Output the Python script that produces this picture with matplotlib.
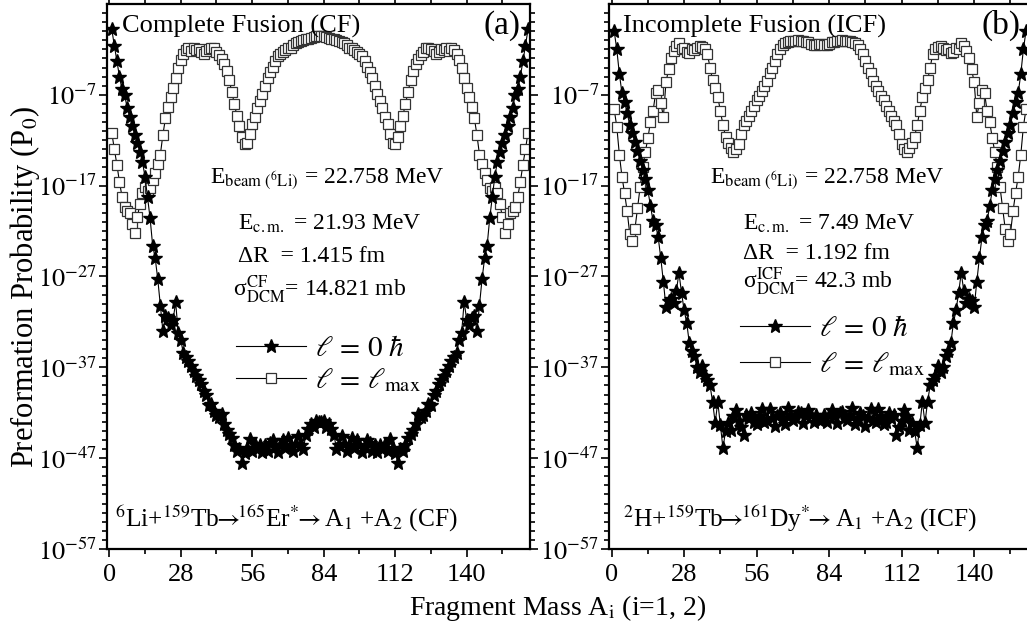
import numpy as np
import matplotlib
matplotlib.use('Agg')
import matplotlib.pyplot as plt
from matplotlib.ticker import FixedLocator, FuncFormatter, NullFormatter

plt.rcParams['font.family'] = 'Liberation Serif'
plt.rcParams['mathtext.fontset'] = 'stix'

# log10(P0), fragment mass A1 = 1..164 (CF) and 1..160 (ICF)
mass_cf = np.arange(1, 165)
mass_icf = np.arange(1, 161)

cf_l0 = [0.2, -1.6, -3.3, -5.0, -6.4, -7.0, -8.4, -9.4, -10.4, -11.4,
         -12.3, -13.3, -14.4, -16.0, -18.3, -20.6, -23.6, -25.0, -27.3, -30.2,
         -33.0, -31.3, -31.6, -32.3, -31.8, -29.8, -33.2, -34.0, -35.4, -35.9,
         -36.3, -36.9, -37.4, -37.9, -38.4, -38.8, -39.6, -40.0, -41.2, -41.0,
         -41.8, -42.2, -42.5, -42.1, -43.2, -43.9, -44.3, -44.8, -45.6, -46.2,
         -46.0, -47.5, -46.4, -45.9, -44.9, -46.2, -45.4, -46.0, -45.6, -46.3,
         -45.5, -46.2, -45.3, -45.0, -45.8, -46.3, -45.5, -45.0, -45.9, -44.8,
         -45.6, -46.2, -45.4, -44.6, -45.6, -46.0, -44.4, -43.8, -43.2, -43.6,
         -42.9, -43.0,
         -43.0, -42.9, -43.6, -43.2, -43.8, -44.4, -46.0, -45.6, -44.6, -45.4,
         -46.2, -45.6, -44.8, -45.9, -45.0, -45.5, -46.3, -45.8, -45.0, -45.3,
         -46.2, -45.5, -46.3, -45.6, -46.0, -45.4, -46.2, -44.9, -45.9, -46.4,
         -47.5, -46.0, -46.2, -45.6, -44.8, -44.3, -43.9, -43.2, -42.1, -42.5,
         -42.2, -41.8, -41.0, -41.2, -40.0, -39.6, -38.8, -38.4, -37.9, -37.4,
         -36.9, -36.3, -35.9, -35.4, -34.0, -33.2, -29.8, -31.8, -32.3, -31.6,
         -31.3, -33.0, -30.2, -27.3, -25.0, -23.6, -20.6, -18.3, -16.0, -14.4,
         -13.3, -12.3, -11.4, -10.4, -9.4, -8.4, -7.0, -6.4, -5.0, -3.3,
         -1.6, 0.2]

cf_lmax = [-11.2, -13.0, -14.7, -16.6, -18.2, -19.4, -19.8, -20.0, -21.2, -22.2,
           -20.5, -19.0, -17.8, -17.2, -17.6, -17.3, -16.4, -15.6, -14.6, -13.6,
           -11.4, -9.6, -8.3, -7.2, -6.2, -5.1, -4.1, -3.2, -2.5, -2.1,
           -1.9, -2.2, -1.9, -2.1, -2.0, -2.3, -2.5, -2.2, -2.0, -1.8,
           -1.9, -2.3, -2.6, -3.1, -3.6, -4.4, -5.4, -6.7, -8.0, -9.3,
           -10.4, -11.6, -12.4, -12.3, -11.3, -10.2, -9.4, -8.5, -7.7, -6.9,
           -6.0, -5.2, -4.5, -3.9, -3.3, -2.7, -2.5, -2.3, -2.1, -1.9,
           -1.8, -1.5, -1.3, -1.2, -1.1, -1.0, -0.9, -0.8, -0.7, -0.6,
           -0.5, -0.5,
           -0.5, -0.5, -0.6, -0.7, -0.8, -0.9, -1.0, -1.1, -1.2, -1.3,
           -1.5, -1.8, -1.9, -2.1, -2.3, -2.5, -2.7, -3.3, -3.9, -4.5,
           -5.2, -6.0, -6.9, -7.7, -8.5, -9.4, -10.2, -11.3, -12.3, -12.4,
           -11.6, -10.4, -9.3, -8.0, -6.7, -5.4, -4.4, -3.6, -3.1, -2.6,
           -2.3, -1.9, -1.8, -2.0, -2.2, -2.5, -2.3, -2.0, -2.1, -1.9,
           -2.2, -1.9, -2.1, -2.5, -3.2, -4.1, -5.1, -6.2, -7.2, -8.3,
           -9.6, -11.4, -13.6, -14.6, -15.6, -16.4, -17.3, -17.6, -17.2, -17.8,
           -19.0, -20.5, -22.2, -21.2, -20.0, -19.8, -19.4, -18.2, -16.6, -14.7,
           -13.0, -11.2]

icf_l0 = [0.0, -2.0, -4.7, -6.8, -7.8, -9.0, -10.3, -11.2, -12.2, -13.2,
          -14.3, -15.3, -16.3, -17.5, -19.2, -20.9, -21.3, -22.7, -25.0, -27.6,
          -30.4, -29.7, -29.5, -29.9, -28.6, -26.6, -28.8, -30.7, -32.1, -34.3,
          -35.2, -35.8, -37.0, -37.5, -36.8, -37.9, -38.4, -39.0, -40.8, -43.1,
          -40.8, -43.3, -45.9, -44.0, -43.1, -43.9, -42.4, -41.7, -42.9, -43.6,
          -44.5, -42.2, -42.6, -42.0, -43.0, -43.2, -42.4, -41.6, -43.0, -42.8,
          -41.6, -42.6, -43.5, -42.4, -42.0, -42.6, -43.2, -41.5, -42.2, -42.8,
          -42.4, -41.9, -42.0, -43.1, -42.4, -41.7, -42.3, -43.0, -42.2, -42.8,
          -42.8, -42.2, -43.0, -42.3, -41.7, -42.4, -43.1, -42.0, -41.9, -42.4,
          -42.8, -42.2, -41.5, -43.2, -42.6, -42.0, -42.4, -43.5, -42.6, -41.6,
          -42.8, -43.0, -41.6, -42.4, -43.2, -43.0, -42.0, -42.6, -42.2, -44.5,
          -43.6, -42.9, -41.7, -42.4, -43.9, -43.1, -44.0, -45.9, -43.3, -40.8,
          -43.1, -40.8, -39.0, -38.4, -37.9, -36.8, -37.5, -37.0, -35.8, -35.2,
          -34.3, -32.1, -30.7, -28.8, -26.6, -28.6, -29.9, -29.5, -29.7, -30.4,
          -27.6, -25.0, -22.7, -21.3, -20.9, -19.2, -17.5, -16.3, -15.3, -14.3,
          -13.2, -12.2, -11.2, -10.3, -9.0, -7.8, -6.8, -4.7, -2.0, 0.0]

icf_lmax = [-8.6, -10.5, -13.6, -16.0, -17.8, -19.8, -22.3, -23.1, -21.8, -19.5,
            -17.2, -15.0, -13.3, -11.8, -10.0, -8.8, -6.8, -6.5, -7.9, -9.4,
            -5.6, -4.2, -2.9, -2.2, -1.6, -1.3, -2.0, -1.8, -2.3, -2.4,
            -2.0, -2.1, -1.8, -1.6, -1.7, -2.0, -2.5, -4.0, -5.4, -6.3,
            -7.2, -8.8, -10.3, -11.6, -12.3, -12.8, -13.3, -13.0, -12.4, -11.3,
            -10.3, -9.9, -9.3, -8.8, -8.2, -7.6, -7.1, -6.6, -6.0, -5.5,
            -4.6, -4.0, -3.3, -2.5, -2.0, -1.5, -1.3, -1.2, -1.1, -1.1,
            -1.1, -1.0, -1.1, -1.1, -1.2, -1.2, -1.4, -1.5, -1.5, -1.4,
            -1.4, -1.5, -1.5, -1.4, -1.2, -1.2, -1.1, -1.1, -1.0, -1.1,
            -1.1, -1.1, -1.2, -1.3, -1.5, -2.0, -2.5, -3.3, -4.0, -4.6,
            -5.5, -6.0, -6.6, -7.1, -7.6, -8.2, -8.8, -9.3, -9.9, -10.3,
            -11.3, -12.4, -13.0, -13.3, -12.8, -12.3, -11.6, -10.3, -8.8, -7.2,
            -6.3, -5.4, -4.0, -2.5, -2.0, -1.7, -1.6, -1.8, -2.1, -2.0,
            -2.4, -2.3, -1.8, -2.0, -1.3, -1.6, -2.2, -2.9, -4.2, -5.6,
            -9.4, -7.9, -6.5, -6.8, -8.8, -10.0, -11.8, -13.3, -15.0, -17.2,
            -19.5, -21.8, -23.1, -22.3, -19.8, -17.8, -16.0, -13.6, -10.5, -8.6]

xticks = [0, 28, 56, 84, 112, 140]

fig = plt.figure(figsize=(10.27, 6.33), dpi=100)
ax1 = fig.add_axes([0.1039, 0.1327, 0.4122, 0.861])
ax2 = fig.add_axes([0.5930, 0.1327, 0.4181, 0.861])


def draw_panel(ax, mass, l0, lmax):
    lq, = ax.plot(mass, 10.0 ** np.array(lmax), color='k', lw=0.8, marker='s', ms=7.5,
                  mfc='white', mec='#333333', mew=0.9, zorder=2)
    ls, = ax.plot(mass, 10.0 ** np.array(l0), color='k', lw=0.8, marker='*', ms=10.5,
                  mfc='k', mec='k', zorder=3)
    ax.set_yscale('log')
    ax.set_xlim(-1, 164.8)
    ax.set_ylim(1e-57, 1e3)
    ax.xaxis.set_major_locator(FixedLocator(xticks))
    ax.xaxis.set_minor_locator(FixedLocator(np.arange(14, 168, 28)))
    ax.yaxis.set_major_locator(FixedLocator([10.0 ** e for e in range(-57, 0, 10)]))
    ax.yaxis.set_minor_locator(FixedLocator([10.0 ** e for e in range(-57, 3) if (e + 57) % 10]))
    ax.yaxis.set_major_formatter(FuncFormatter(lambda v, p: r'$10^{%d}$' % round(np.log10(v))))
    ax.yaxis.set_minor_formatter(NullFormatter())
    ax.tick_params(which='both', direction='out', top=True, right=True, width=1.2,
                   labelsize=19)
    ax.tick_params(which='major', length=6)
    ax.tick_params(which='minor', length=3.5)
    ax.tick_params(axis='y', pad=1)
    ax.tick_params(axis='x', pad=5)
    for s in ax.spines.values():
        s.set_linewidth(1.6)
    return ls, lq


ls1, lq1 = draw_panel(ax1, mass_cf, cf_l0, cf_lmax)
ls2, lq2 = draw_panel(ax2, mass_icf, icf_l0, icf_lmax)

labels = [r'$\ell\,=\,0\ \hbar$', r'$\ell\,=\,\ell_{\rm max}$']
ax1.legend([ls1, lq1], labels, loc='upper left', bbox_to_anchor=(0.305, 0.392),
           frameon=False, fontsize=21, handlelength=2.4, handletextpad=0.3,
           labelspacing=0.15, numpoints=1, borderaxespad=0, borderpad=0)
ax2.legend([ls2, lq2], labels, loc='upper left', bbox_to_anchor=(0.305, 0.428),
           frameon=False, fontsize=21, handlelength=2.4, handletextpad=0.3,
           labelspacing=0.28, numpoints=1, borderaxespad=0, borderpad=0)

arrow = r'$\!\!\rightarrow\!\!$'
arrow_end = r'$\!\!\rightarrow$'

# panel (a) texts
t = dict(transform=ax1.transAxes, va='baseline')
ax1.text(0.036, 0.948, 'Complete Fusion (CF)', fontsize=19, **t)
ax1.text(0.978, 0.946, '(a)', fontsize=24, ha='right', **t)
ax1.text(0.244, 0.672, r'E$_{\rm beam\ (^{6}Li)}$ = 22.758 MeV', fontsize=17, **t)
ax1.text(0.31, 0.585, r'E$_{\rm c.m.}$ = 21.93 MeV', fontsize=17, **t)
ax1.text(0.31, 0.527, r'ΔR  = 1.415 fm', fontsize=17, **t)
ax1.text(0.299, 0.463, r'σ$^{\rm CF}_{\rm DCM}$= 14.821 mb', fontsize=17, **t)
ax1.text(0.02, 0.042, r'$^{6}$Li+$^{159}$Tb' + arrow + r'$^{165}$Er$^{*}$' + arrow_end
         + r'A$_{1}$ +A$_{2}$ (CF)', fontsize=18.3, **t)

# panel (b) texts
t = dict(transform=ax2.transAxes, va='baseline')
ax2.text(0.033, 0.948, 'Incomplete Fusion (ICF)', fontsize=19, **t)
ax2.text(0.958, 0.946, '(b)', fontsize=24, ha='right', **t)
ax2.text(0.235, 0.672, r'E$_{\rm beam\ (^{6}Li)}$ = 22.758 MeV', fontsize=17, **t)
ax2.text(0.313, 0.585, r'E$_{\rm c.m.}$ = 7.49 MeV', fontsize=17, **t)
ax2.text(0.313, 0.533, r'ΔR  = 1.192 fm', fontsize=17, **t)
ax2.text(0.313, 0.478, r'σ$^{\rm ICF}_{\rm DCM}$= 42.3 mb', fontsize=17, **t)
ax2.text(0.033, 0.042, r'$^{2}$H+$^{159}$Tb' + arrow + r'$^{161}$Dy$^{*}$' + arrow_end
         + r'A$_{1}$ +A$_{2}$ (ICF)', fontsize=18.3, **t)

fig.text(0.0243, 0.547, r'Preformation Probability (P$_{0}$)', rotation=90,
         ha='center', va='center', fontsize=22)
fig.text(0.5424, 0.0284, r'Fragment Mass A$_{\rm i}$ (i=1, 2)', ha='center',
         va='baseline', fontsize=20)

fig.savefig('out.png', dpi=100)
